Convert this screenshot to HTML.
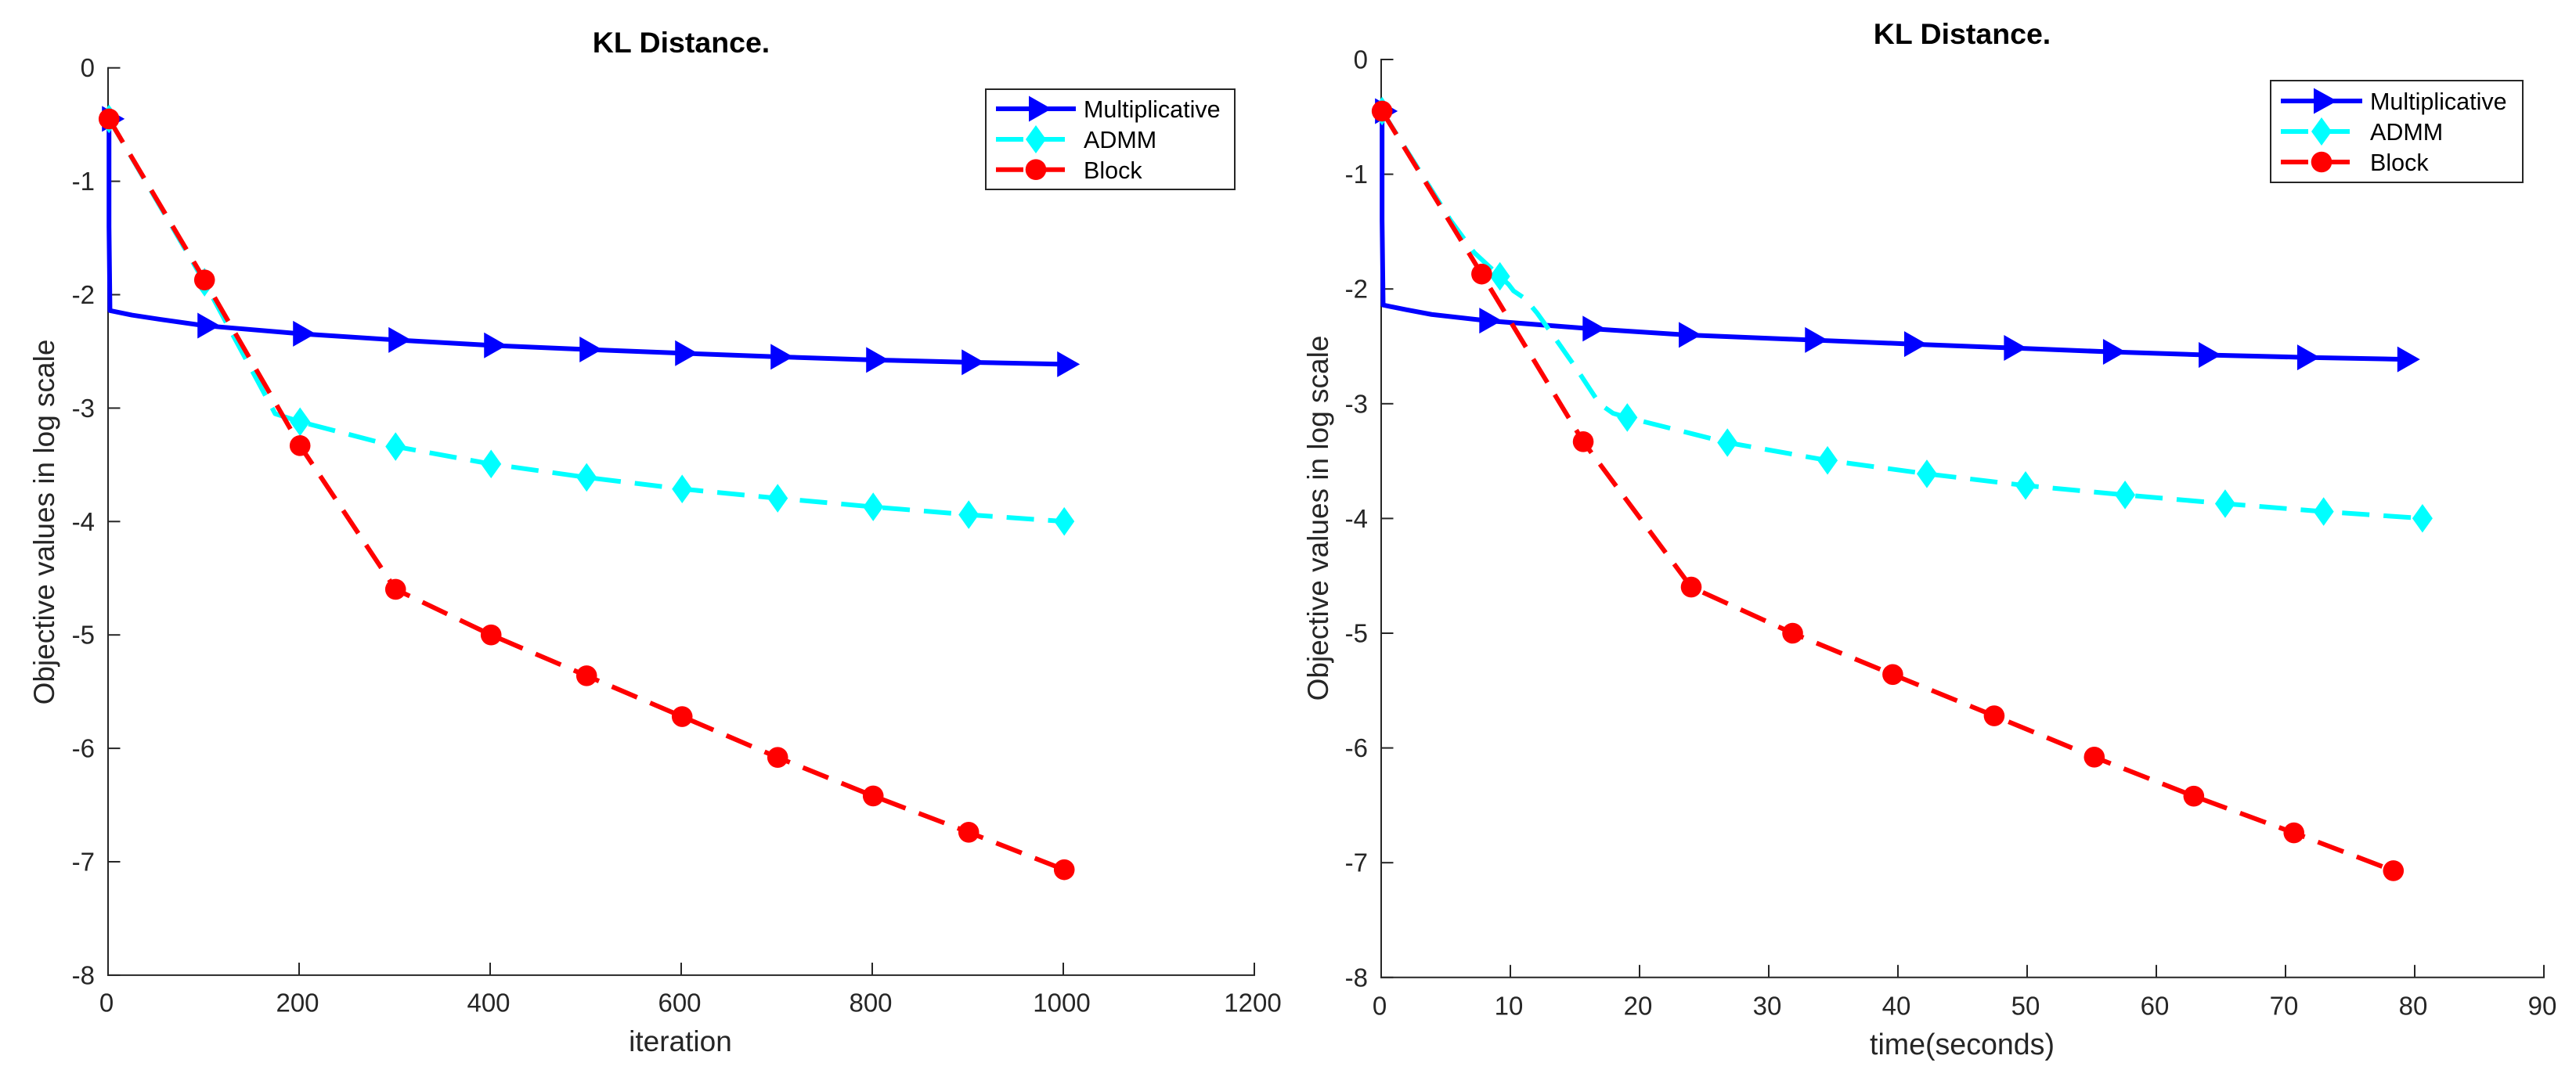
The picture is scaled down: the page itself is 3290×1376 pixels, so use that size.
<!DOCTYPE html>
<html lang="en">
<head>
<meta charset="utf-8">
<title>KL Distance</title>
<style>
html,body{margin:0;padding:0;background:#fff;}
svg{display:block;}
text{font-family:"Liberation Sans",sans-serif;}
.tick{font-size:33px;fill:#262626;}
.title{font-size:37.5px;font-weight:bold;fill:#000;text-anchor:middle;}
.label{font-size:37px;fill:#262626;text-anchor:middle;}
.label-wide{font-size:37.6px;fill:#262626;text-anchor:middle;}
.leg{font-size:30.5px;fill:#000;}
</style>
</head>
<body>
<svg id="figure" width="3290" height="1376" viewBox="0 0 3290 1376" xmlns="http://www.w3.org/2000/svg">
  <rect x="0" y="0" width="3290" height="1376" fill="#fff"/>

  <g id="left-plot">
    <text class="title" x="870" y="67">KL Distance.</text>
    <text class="label" x="869" y="1343">iteration</text>
    <text class="label" transform="translate(69,667) rotate(-90)">Objective values in log scale</text>
  </g>

  <g id="right-plot">
    <text class="title" x="2506" y="56">KL Distance.</text>
    <text class="label-wide" x="2506" y="1347">time(seconds)</text>
    <text class="label" transform="translate(1696,662) rotate(-90)">Objective values in log scale</text>
  </g>

  <g id="left-legend">
    <rect x="1259" y="114" width="318" height="128" fill="#fff" stroke="#262626" stroke-width="2"/>
    <g>
      <line x1="1272" y1="139" x2="1374" y2="139" stroke="#0000ff" stroke-width="6"/>
      <polygon points="1314,122.5 1314,155.5 1343,139" fill="#0000ff"/>
      <text class="leg" x="1384" y="150">Multiplicative</text>
    </g>
    <g>
      <line x1="1272" y1="178" x2="1361" y2="178" stroke="#00ffff" stroke-width="6" stroke-dasharray="35 18"/>
      <polygon points="1323,160 1336,178 1323,196 1310,178" fill="#00ffff"/>
      <text class="leg" x="1384" y="189">ADMM</text>
    </g>
    <g>
      <line x1="1272" y1="216.7" x2="1361" y2="216.7" stroke="#ff0000" stroke-width="6" stroke-dasharray="35 18"/>
      <circle cx="1323" cy="216.7" r="13.3" fill="#ff0000"/>
      <text class="leg" x="1384" y="228">Block</text>
    </g>
  </g>

  <g id="right-legend">
    <rect x="2900" y="103" width="322" height="130" fill="#fff" stroke="#262626" stroke-width="2"/>
    <g>
      <line x1="2913" y1="129" x2="3017" y2="129" stroke="#0000ff" stroke-width="6"/>
      <polygon points="2955,112.5 2955,145.5 2985,129" fill="#0000ff"/>
      <text class="leg" x="3027" y="140">Multiplicative</text>
    </g>
    <g>
      <line x1="2913" y1="168" x2="3003" y2="168" stroke="#00ffff" stroke-width="6" stroke-dasharray="35 18"/>
      <polygon points="2965,150 2978,168 2965,186 2952,168" fill="#00ffff"/>
      <text class="leg" x="3027" y="179">ADMM</text>
    </g>
    <g>
      <line x1="2913" y1="207" x2="3003" y2="207" stroke="#ff0000" stroke-width="6" stroke-dasharray="35 18"/>
      <circle cx="2965" cy="207" r="13.3" fill="#ff0000"/>
      <text class="leg" x="3027" y="218">Block</text>
    </g>
  </g>
</svg>

<script>
// Tick labels
const yTickValues = [0, -1, -2, -3, -4, -5, -6, -7, -8];
const iterXTicks = [0, 200, 400, 600, 800, 1000, 1200];
const timeXTicks = [0, 10, 20, 30, 40, 50, 60, 70, 80, 90];

// Iteration chart: Multiplicative
const iterMultX = [1, 1, 2, 25, 54, 101, 201, 301, 401, 501, 601, 701, 801, 901, 1001];
const iterMultY = [-0.45, -1.4, -2.14, -2.18, -2.217, -2.273, -2.344, -2.399, -2.447, -2.483, -2.516, -2.548, -2.575, -2.596, -2.613];
const iterMultUnmarked = [1, 2, 3, 4];

// Iteration chart: ADMM
const iterAdmmX = [1, 101, 175, 201, 301, 401, 501, 601, 701, 801, 901, 1001];
const iterAdmmY = [-0.45, -1.89, -3.05, -3.12, -3.339, -3.493, -3.611, -3.713, -3.795, -3.871, -3.94, -3.999];
const iterAdmmUnmarked = [2];

// Iteration chart: Block
const iterBlockX = [1, 101, 201, 301, 401, 501, 601, 701, 801, 901, 1001];
const iterBlockY = [-0.45, -1.87, -3.331, -4.598, -5.0, -5.36, -5.72, -6.08, -6.42, -6.74, -7.07];
const iterBlockUnmarked = [];

// Time chart: Multiplicative
const timeMultX = [0.07, 0.07, 0.15, 1.9, 3.9, 8.14, 16.14, 23.58, 33.35, 41.03, 48.75, 56.42, 63.82, 71.45, 79.2];
const timeMultY = [-0.45, -1.4, -2.14, -2.18, -2.222, -2.276, -2.346, -2.4, -2.445, -2.48, -2.514, -2.548, -2.575, -2.596, -2.613];
const timeMultUnmarked = [1, 2, 3, 4];

// Time chart: ADMM
const timeAdmmX = [0.07, 5.36, 7.2, 9.19, 9.86, 10.25, 11.15, 12.07, 13.2, 15.1, 16.9, 17.94, 19.05, 26.8, 34.55, 42.24, 49.88, 57.58, 65.33, 72.95, 80.6];
const timeAdmmY = [-0.45, -1.4, -1.683, -1.89, -1.96, -2.017, -2.085, -2.21, -2.387, -2.692, -3.0, -3.083, -3.12, -3.339, -3.494, -3.611, -3.713, -3.795, -3.871, -3.94, -3.999];
const timeAdmmUnmarked = [1, 2, 4, 5, 6, 7, 8, 9, 10, 11];

// Time chart: Block
const timeBlockX = [0.07, 7.78, 15.64, 24.0, 31.85, 39.6, 47.45, 55.2, 62.9, 70.65, 78.35];
const timeBlockY = [-0.45, -1.87, -3.331, -4.598, -5.0, -5.36, -5.72, -6.08, -6.42, -6.74, -7.07];
const timeBlockUnmarked = [];

const SVG_NS = 'http://www.w3.org/2000/svg';
const AXIS_COLOR = '#262626';

function make(tag, attrs, parent) {
  const el = document.createElementNS(SVG_NS, tag);
  for (const k in attrs) el.setAttribute(k, attrs[k]);
  parent.appendChild(el);
  return el;
}

function drawAxes(group, xScale, yScale, xTicks, yTicks, xMax, yMin, labelDy) {
  const x0 = xScale(0), yBase = yScale(yMin), yTop = yScale(0), xEnd = xScale(xMax);
  const axes = make('g', {}, group);
  
  

  const xAxis = make('line', {x1: x0 - 1, y1: yBase, x2: xEnd + 1, y2: yBase, stroke: AXIS_COLOR, 'stroke-width': 2}, axes);
  
  

  const yAxis = make('line', {x1: x0, y1: yTop - 1, x2: x0, y2: yBase + 1, stroke: AXIS_COLOR, 'stroke-width': 2}, axes);
  
  

  xTicks.forEach(function (v) {
    const px = xScale(v);
    const mark = make('line', {x1: px, y1: yBase, x2: px, y2: yBase - 16, stroke: AXIS_COLOR, 'stroke-width': 2}, axes);
    
    
    const label = make('text', {class: 'tick', x: px - 2, y: yBase + labelDy, 'text-anchor': 'middle'}, axes);
    label.textContent = String(v);
    
    
  });

  yTicks.forEach(function (v) {
    const py = yScale(v);
    const mark = make('line', {x1: x0, y1: py, x2: x0 + 15.5, y2: py, stroke: AXIS_COLOR, 'stroke-width': 2}, axes);
    
    
    const label = make('text', {class: 'tick', x: x0 - 17, y: py + 11.5, 'text-anchor': 'end'}, axes);
    label.textContent = String(v);
    
    
  });
}

function drawMarker(kind, cx, cy, color, parent) {
  if (kind === 'triangle') {
    return make('polygon', {points: (cx - 9) + ',' + (cy - 16.5) + ' ' + (cx - 9) + ',' + (cy + 16.5) + ' ' + (cx + 20) + ',' + cy, fill: color}, parent);
  }
  if (kind === 'diamond') {
    return make('polygon', {points: cx + ',' + (cy - 18.3) + ' ' + (cx + 13) + ',' + cy + ' ' + cx + ',' + (cy + 18.3) + ' ' + (cx - 13) + ',' + cy, fill: color}, parent);
  }
  return make('circle', {cx: cx, cy: cy, r: 13.3, fill: color}, parent);
}

function drawSeries(group, xScale, yScale, xs, ys, unmarked, color, dash, kind, seriesName) {
  const g = make('g', {}, group);
  
  

  const pts = xs.map(function (x, i) { return xScale(x) + ',' + yScale(ys[i]); }).join(' ');
  const attrs = {points: pts, fill: 'none', stroke: color, 'stroke-width': 6, 'stroke-linejoin': 'round'};
  if (dash) attrs['stroke-dasharray'] = dash;
  const line = make('polyline', attrs, g);
  
  

  xs.forEach(function (x, i) {
    if (unmarked.indexOf(i) !== -1) return;
    const m = drawMarker(kind, xScale(x), yScale(ys[i]), color, g);
    
    
  });
}

const iterPx = function (v) { return 138 + v * 1.22; };
const iterPy = function (v) { return 86.7 - v * 144.9; };
const timePx = function (v) { return 1764 + v * 16.5; };
const timePy = function (v) { return 76 - v * 146.6; };

const leftPlot = document.getElementById('left-plot');
const rightPlot = document.getElementById('right-plot');

drawAxes(leftPlot, iterPx, iterPy, iterXTicks, yTickValues, 1200, -8, 46.5);
drawSeries(leftPlot, iterPx, iterPy, iterMultX, iterMultY, iterMultUnmarked, '#0000ff', null, 'triangle', 'multiplicative-series');
drawSeries(leftPlot, iterPx, iterPy, iterAdmmX, iterAdmmY, iterAdmmUnmarked, '#00ffff', '35 18', 'diamond', 'admm-series');
drawSeries(leftPlot, iterPx, iterPy, iterBlockX, iterBlockY, iterBlockUnmarked, '#ff0000', '35 18', 'circle', 'block-series');

drawAxes(rightPlot, timePx, timePy, timeXTicks, yTickValues, 90, -8, 47.5);
drawSeries(rightPlot, timePx, timePy, timeMultX, timeMultY, timeMultUnmarked, '#0000ff', null, 'triangle', 'multiplicative-series');
drawSeries(rightPlot, timePx, timePy, timeAdmmX, timeAdmmY, timeAdmmUnmarked, '#00ffff', '35 18', 'diamond', 'admm-series');
drawSeries(rightPlot, timePx, timePy, timeBlockX, timeBlockY, timeBlockUnmarked, '#ff0000', '35 18', 'circle', 'block-series');
</script>
</body>
</html>
